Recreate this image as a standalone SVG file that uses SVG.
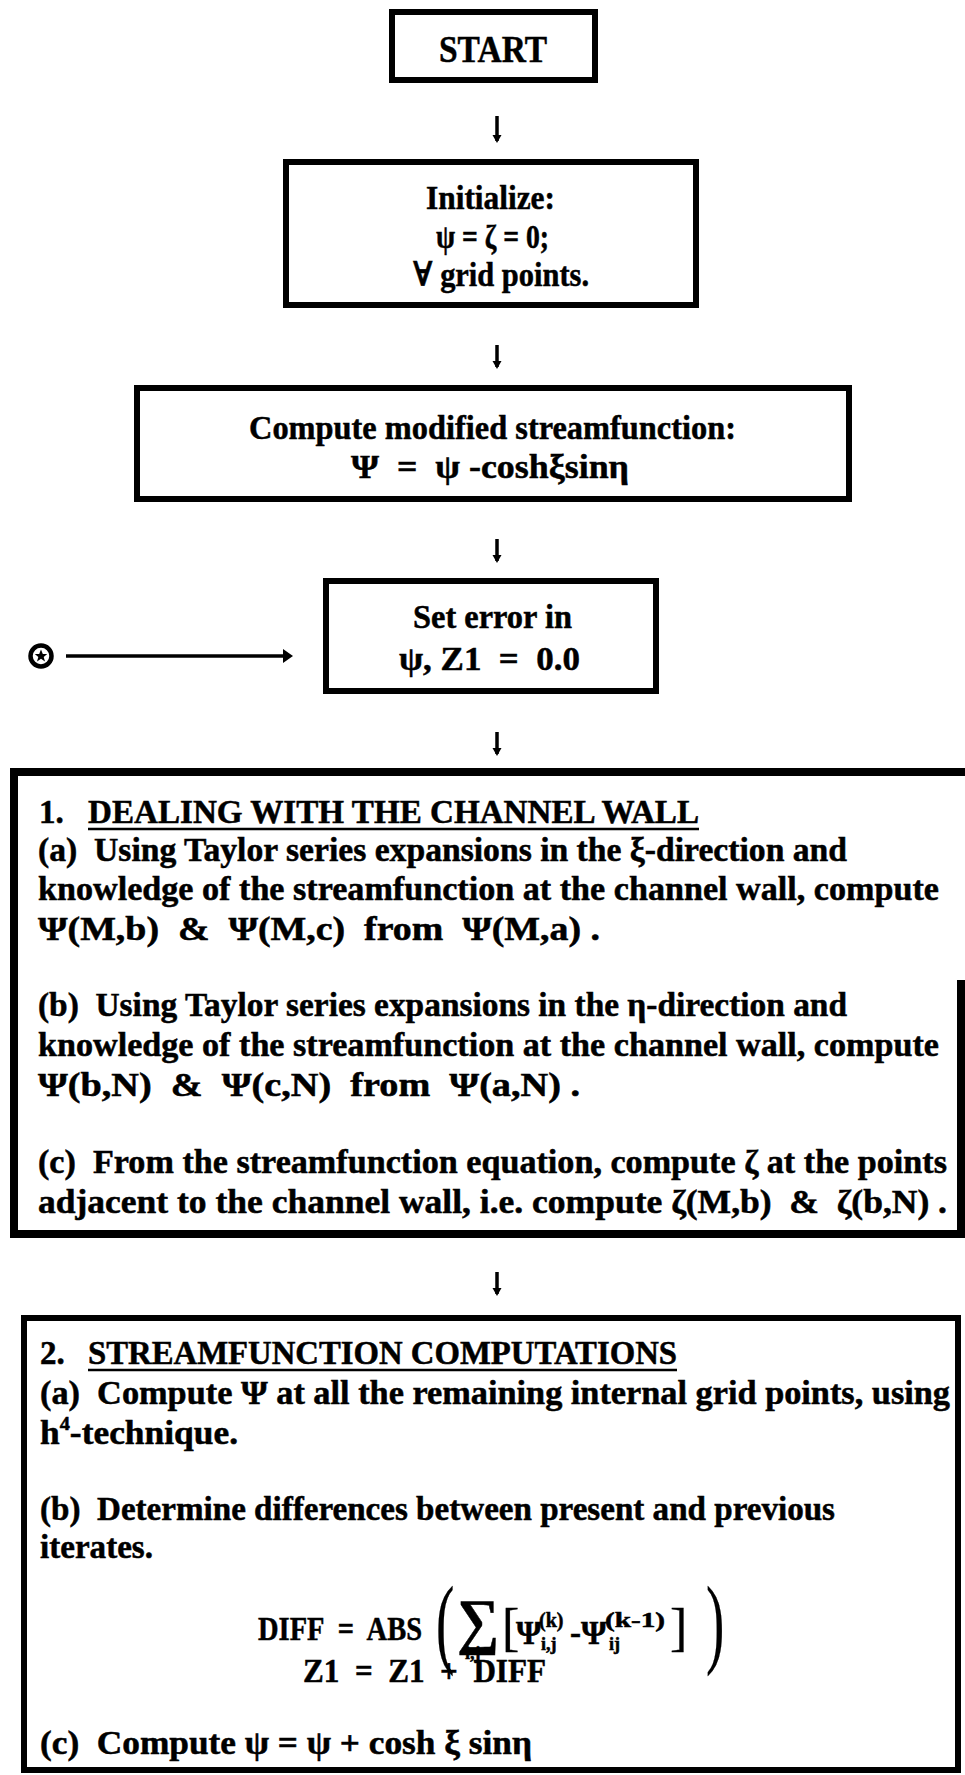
<svg xmlns="http://www.w3.org/2000/svg" width="965" height="1775" viewBox="0 0 965 1775">
<style>
.t{font-family:"Liberation Serif","DejaVu Serif",serif;font-weight:bold;fill:#000;stroke:#000;stroke-width:0.5;white-space:pre}
.n{font-weight:normal;stroke-width:0.3}
.b{fill:#fff;stroke:#000;stroke-width:6}
.ln{fill:none;stroke:#000;stroke-width:8}
.u{stroke:#000;stroke-width:2.5}
.ar{stroke:#000;stroke-width:3.5;marker-end:url(#ahd)}
</style>
<defs>
<marker id="ahd" markerWidth="10" markerHeight="10" refX="5" refY="8" markerUnits="userSpaceOnUse" viewBox="0 0 10 10">
<path d="M0.5,2 L9.5,2 L5,10 Z" fill="#000"/>
</marker>
</defs>
<rect width="965" height="1775" fill="#fff"/>

<g id="connectors">
<line class="ar" x1="497" y1="116" x2="497" y2="141"/>
<line class="ar" x1="497" y1="345" x2="497" y2="367"/>
<line class="ar" x1="497" y1="539" x2="497" y2="561"/>
<line class="ar" x1="497" y1="732" x2="497" y2="754"/>
<line class="ar" x1="497" y1="1272" x2="497" y2="1294"/>
<line x1="66" y1="656" x2="286" y2="656" stroke="#000" stroke-width="3.5"/>
<path d="M283,649 L293,656 L283,663 Z" fill="#000"/>
</g>

<g id="connector-source">
<circle cx="41" cy="656" r="10.5" fill="#fff" stroke="#000" stroke-width="4.5"/>
<path d="M41,649.5 L42.8,654 L47.2,654 L43.7,656.9 L45,661.5 L41,658.8 L37,661.5 L38.3,656.9 L34.8,654 L39.2,654 Z" fill="#000"/>
</g>

<g id="start">
<rect class="b" x="392" y="12" width="203" height="68"/>
<text class="t" x="439" y="62" font-size="38" textLength="108" lengthAdjust="spacingAndGlyphs">START</text>
</g>

<g id="initialize">
<rect class="b" x="286" y="162" width="410" height="143"/>
<text class="t" x="426" y="209" font-size="34" textLength="129" lengthAdjust="spacingAndGlyphs">Initialize:</text>
<text class="t" x="436" y="248" font-size="34" textLength="113" lengthAdjust="spacingAndGlyphs">ψ = ζ = 0;</text>
<text class="t" x="413" y="286" font-size="34" textLength="176" lengthAdjust="spacingAndGlyphs">∀ grid points.</text>
</g>

<g id="modified">
<rect class="b" x="137" y="388" width="712" height="111"/>
<text class="t" x="249" y="439" font-size="34" textLength="487" lengthAdjust="spacingAndGlyphs">Compute modified streamfunction:</text>
<text class="t" x="351" y="478" font-size="34" textLength="278" lengthAdjust="spacingAndGlyphs">Ψ  =  ψ -coshξsinη</text>
</g>

<g id="seterror">
<rect class="b" x="326" y="581" width="330" height="110"/>
<text class="t" x="413" y="628" font-size="34" textLength="159" lengthAdjust="spacingAndGlyphs">Set error in</text>
<text class="t" x="399" y="670" font-size="34" textLength="181" lengthAdjust="spacingAndGlyphs">ψ, Z1  =  0.0</text>
</g>

<g id="wall">
<line class="ln" x1="10" y1="772" x2="965" y2="772"/>
<line class="ln" x1="14" y1="768" x2="14" y2="1238"/>
<line class="ln" x1="10" y1="1234" x2="965" y2="1234"/>
<line class="ln" x1="961" y1="980" x2="961" y2="1234" stroke-width="2.5"/>
<text class="t" x="39" y="823" font-size="33">1.</text>
<text class="t" x="88" y="823" font-size="33" textLength="611" lengthAdjust="spacingAndGlyphs">DEALING WITH THE CHANNEL WALL</text>
<line class="u" x1="88" y1="829" x2="699" y2="829"/>
<text class="t" x="38" y="861" font-size="33" textLength="809" lengthAdjust="spacingAndGlyphs">(a)  Using Taylor series expansions in the ξ-direction and</text>
<text class="t" x="38" y="900" font-size="33" textLength="901" lengthAdjust="spacingAndGlyphs">knowledge of the streamfunction at the channel wall, compute</text>
<text class="t" x="38" y="940" font-size="33" textLength="562" lengthAdjust="spacingAndGlyphs">Ψ(M,b)  &amp;  Ψ(M,c)  from  Ψ(M,a) .</text>
<text class="t" x="38" y="1016" font-size="33" textLength="809" lengthAdjust="spacingAndGlyphs">(b)  Using Taylor series expansions in the η-direction and</text>
<text class="t" x="38" y="1056" font-size="33" textLength="901" lengthAdjust="spacingAndGlyphs">knowledge of the streamfunction at the channel wall, compute</text>
<text class="t" x="38" y="1096" font-size="33" textLength="542" lengthAdjust="spacingAndGlyphs">Ψ(b,N)  &amp;  Ψ(c,N)  from  Ψ(a,N) .</text>
<text class="t" x="38" y="1173" font-size="33" textLength="909" lengthAdjust="spacingAndGlyphs">(c)  From the streamfunction equation, compute ζ at the points</text>
<text class="t" x="38" y="1213" font-size="33" textLength="909" lengthAdjust="spacingAndGlyphs">adjacent to the channel wall, i.e. compute ζ(M,b)  &amp;  ζ(b,N) .</text>
</g>

<g id="streamfunction">
<rect class="b" x="24" y="1318" width="934" height="452" stroke-width="8"/>
<text class="t" x="40" y="1364" font-size="33">2.</text>
<text class="t" x="88" y="1364" font-size="33" textLength="589" lengthAdjust="spacingAndGlyphs">STREAMFUNCTION COMPUTATIONS</text>
<line class="u" x1="88" y1="1370" x2="677" y2="1370"/>
<text class="t" x="40" y="1404" font-size="33" textLength="910" lengthAdjust="spacingAndGlyphs">(a)  Compute Ψ at all the remaining internal grid points, using</text>
<text class="t" x="40" y="1444" font-size="33" textLength="198" lengthAdjust="spacingAndGlyphs">h<tspan font-size="19" dy="-14">4</tspan><tspan dy="14">-technique.</tspan></text>
<text class="t" x="40" y="1520" font-size="33" textLength="795" lengthAdjust="spacingAndGlyphs">(b)  Determine differences between present and previous</text>
<text class="t" x="40" y="1558" font-size="33" textLength="113" lengthAdjust="spacingAndGlyphs">iterates.</text>
<text class="t" x="258" y="1640" font-size="33" textLength="164" lengthAdjust="spacingAndGlyphs">DIFF  =  ABS</text>
<text class="t n" x="0" y="0" font-size="100" transform="translate(436 1655) scale(0.55 1)">(</text>
<text class="t" x="457" y="1642" font-size="62" textLength="42" lengthAdjust="spacingAndGlyphs">∑</text>
<text class="t" x="465" y="1659" font-size="18">i,j</text>
<text class="t n" x="0" y="0" font-size="52" transform="translate(502 1645)">[</text>
<text class="t" x="516" y="1644" font-size="33">Ψ</text>
<text class="t" x="539" y="1627" font-size="20">(k)</text>
<text class="t" x="541" y="1650" font-size="18">i,j</text>
<text class="t" x="570" y="1644" font-size="33">-Ψ</text>
<text class="t" x="605" y="1627" font-size="20" textLength="60" lengthAdjust="spacingAndGlyphs">(k-1)</text>
<text class="t" x="609" y="1650" font-size="18">ij</text>
<text class="t n" x="0" y="0" font-size="52" transform="translate(670 1645)">]</text>
<text class="t n" x="0" y="0" font-size="100" transform="translate(706 1655) scale(0.55 1)">)</text>
<text class="t" x="303" y="1682" font-size="33" textLength="243" lengthAdjust="spacingAndGlyphs">Z1  =  Z1  +  DIFF</text>
<text class="t" x="40" y="1754" font-size="33" textLength="492" lengthAdjust="spacingAndGlyphs">(c)  Compute ψ = ψ + cosh ξ sinη</text>
</g>
</svg>
